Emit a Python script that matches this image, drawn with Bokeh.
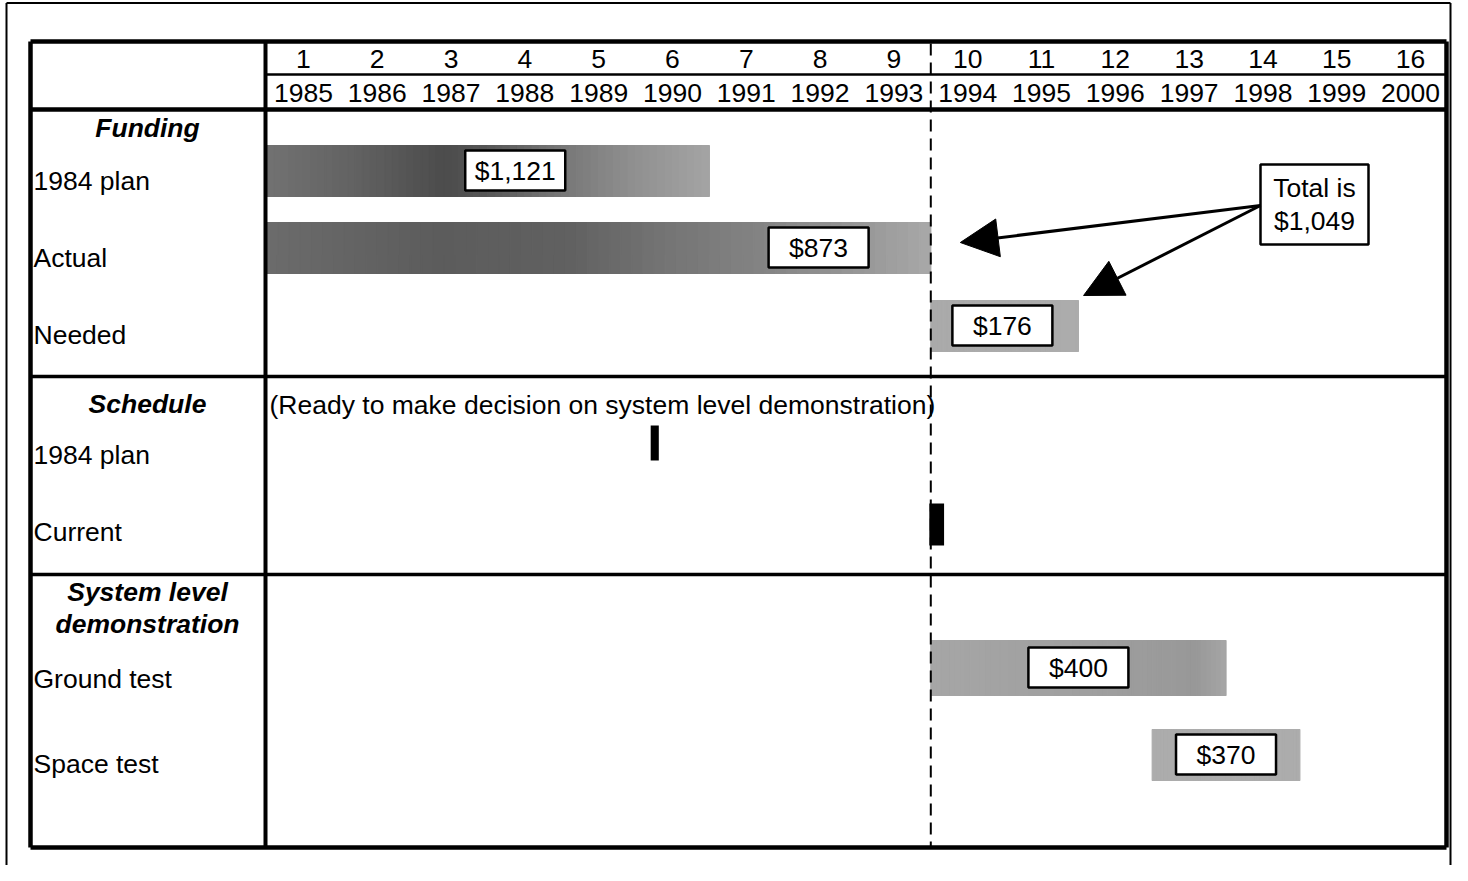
from bokeh.plotting import figure
from bokeh.models import Range1d, Arrow, NormalHead
from bokeh.core.properties import value
from bokeh.embed import file_html
from bokeh.resources import INLINE

# ---------------- data ----------------
periods = [str(i) for i in range(1, 17)]
years = list(range(1985, 2001))

funding_rows = ["1984 plan", "Actual", "Needed"]
funding_start = [1985, 1985, 1994]
funding_end = [1991, 1994, 1996]
funding_labels = ["$1,121", "$873", "$176"]
funding_label_x = [1988.37, 1992.48, 1994.97]

schedule_rows = ["1984 plan", "Current"]
schedule_note = "(Ready to make decision on system level demonstration)"
schedule_milestone = [1990.26, 1994.08]

demo_rows = ["Ground  test", "Space test"]
demo_start = [1994, 1997]
demo_end = [1998, 1999]
demo_labels = ["$400", "$370"]
demo_label_x = [1996.0, 1998.0]

total_text = ["Total is", "$1,049"]
arrow_targets_x = [1994.40, 1996.07]
today = 1994  # boundary between 1993 and 1994 (dashed line)

# ---------------- layout helpers (pixels of the picture) ----------------
PX0, PXW = 266.0, 73.81  # x pixel of 1985 start, pixels per year
W, H = 1452, 865


def yr(px):
    return 1985 + (px - PX0) / PXW


FONT = value("Liberation Sans")
FS = "26.5px"

p = figure(width=W, height=H, output_backend="svg", toolbar_location=None,
           x_range=Range1d(yr(0), yr(W)), y_range=Range1d(H, 0),
           x_axis_type=None, y_axis_type=None, min_border=0,
           min_border_left=0, min_border_right=0, min_border_top=0, min_border_bottom=0)
p.outline_line_color = None
p.background_fill_color = "white"
p.border_fill_color = "white"
p.grid.visible = False


def gray(v):
    v = max(0, min(255, int(round(v))))
    return "#%02x%02x%02x" % (v, v, v)


def shaded_bar(x0, x1, ytop, ybot, stops, n=60):
    lefts, rights, cols = [], [], []
    for i in range(n):
        f = (i + 0.5) / n
        for (a, ga), (b, gb) in zip(stops[:-1], stops[1:]):
            if a <= f <= b:
                g = ga + (gb - ga) * (f - a) / (b - a)
                break
        lefts.append(x0 + (x1 - x0) * i / n)
        rights.append(x0 + (x1 - x0) * (i + 1) / n)
        cols.append(gray(g))
    p.quad(left=lefts, right=rights, top=[ytop] * n, bottom=[ybot] * n,
           fill_color=cols, line_color=cols, line_width=1.2)


# ---------------- bars ----------------
fund_rows_y = [(145, 196), (222, 273), (300, 351)]
fund_shades = [
    [(0, 0x72), (0.2, 0x62), (0.4, 0x4c), (0.5, 0x56), (0.65, 0x74), (0.82, 0x8e), (1, 0xa4)],
    [(0, 0x6c), (0.25, 0x5c), (0.45, 0x60), (0.6, 0x74), (0.75, 0x84), (0.9, 0x98), (1, 0xa8)],
    [(0, 0xaa), (1, 0xac)],
]
for s, e, (yt, yb), st in zip(funding_start, funding_end, fund_rows_y, fund_shades):
    shaded_bar(s, e, yt, yb, st)

demo_rows_y = [(640, 695), (729, 780)]
demo_shades = [[(0, 0xa6), (0.6, 0x9e), (0.9, 0x98), (1, 0xa6)], [(0, 0xac), (1, 0xac)]]
for s, e, (yt, yb), st in zip(demo_start, demo_end, demo_rows_y, demo_shades):
    shaded_bar(s, e, yt, yb, st)

# schedule milestones
sched_rows_y = [(425, 460), (503, 545)]
sched_w = [0.11, 0.2]
p.quad(left=[m - w / 2 for m, w in zip(schedule_milestone, sched_w)],
       right=[m + w / 2 for m, w in zip(schedule_milestone, sched_w)],
       top=[r[0] for r in sched_rows_y], bottom=[r[1] for r in sched_rows_y],
       fill_color="black", line_color=None)

# value boxes
box_x = funding_label_x + demo_label_x
box_y = [170, 247, 325, 667, 754]
box_t = funding_labels + demo_labels
p.rect(x=box_x, y=box_y, width=100, height=40, width_units="screen", height_units="screen",
       fill_color="white", line_color="black", line_width=2.5)
p.text(x=box_x, y=box_y, text=box_t, text_font=FONT, text_font_size=FS,
       text_align="center", text_baseline="middle", text_color="black")

# ---------------- table grid ----------------
L, R, T, B = yr(30), yr(1446), 41, 847
C = yr(265)
# outer frame (cropped scan border)
p.segment(x0=[yr(6), yr(6), yr(1450)], y0=[2.5, 2.5, 2.5],
          x1=[yr(1450), yr(6), yr(1450)], y1=[2.5, H, H],
          line_color="black", line_width=2)
p.segment(x0=[L, L, R, L, C, C, L, L, L], y0=[T, T, T, B, T, 74, 109, 376, 574],
          x1=[R, L, R, R, C, R, R, R, R], y1=[T, B, B, B, B, 74, 109, 376, 574],
          line_color="black", line_width=[4.5, 4.5, 4.5, 4.5, 4, 2.5, 4.5, 3.5, 3.5])

# dashed "today" line
p.segment(x0=[today], y0=[43], x1=[today], y1=[846], line_color="black",
          line_width=2, line_dash="12 7")

# header texts
p.text(x=[y + 0.5 for y in years], y=[58] * 16, text=periods, text_font=FONT, text_font_size=FS,
       text_align="center", text_baseline="middle", text_color="black")
p.text(x=[y + 0.5 for y in years], y=[92] * 16, text=[str(y) for y in years], text_font=FONT,
       text_font_size=FS, text_align="center", text_baseline="middle", text_color="black")

# section titles
p.text(x=[yr(147)] * 4, y=[127, 403, 591, 623],
       text=["Funding", "Schedule", "System level", "demonstration"],
       text_font=FONT, text_font_size=FS, text_font_style="bold italic",
       text_align="center", text_baseline="middle", text_color="black")

# row labels
p.text(x=[yr(33)] * 7, y=[180, 257, 334, 454, 531, 678, 763],
       text=funding_rows + schedule_rows + demo_rows,
       text_font=FONT, text_font_size=FS, text_align="left", text_baseline="middle",
       text_color="black")

p.text(x=[yr(269)], y=[404], text=[schedule_note], text_font=FONT, text_font_size=FS,
       text_align="left", text_baseline="middle", text_color="black")

# total box with arrows
tx0, tx1 = yr(1260), yr(1368)
p.quad(left=[tx0], right=[tx1], top=[164], bottom=[244], fill_color="white",
       line_color="black", line_width=2.5)
p.text(x=[(tx0 + tx1) / 2] * 2, y=[187, 220], text=total_text, text_font=FONT,
       text_font_size=FS, text_align="center", text_baseline="middle", text_color="black")
for tx, ty in zip(arrow_targets_x, [242, 295]):
    p.add_layout(Arrow(end=NormalHead(size=38, fill_color="black", line_color="black"),
                       x_start=tx0, y_start=205, x_end=tx, y_end=ty,
                       line_color="black", line_width=3))

open("out.html", "w").write(file_html(p, INLINE))
